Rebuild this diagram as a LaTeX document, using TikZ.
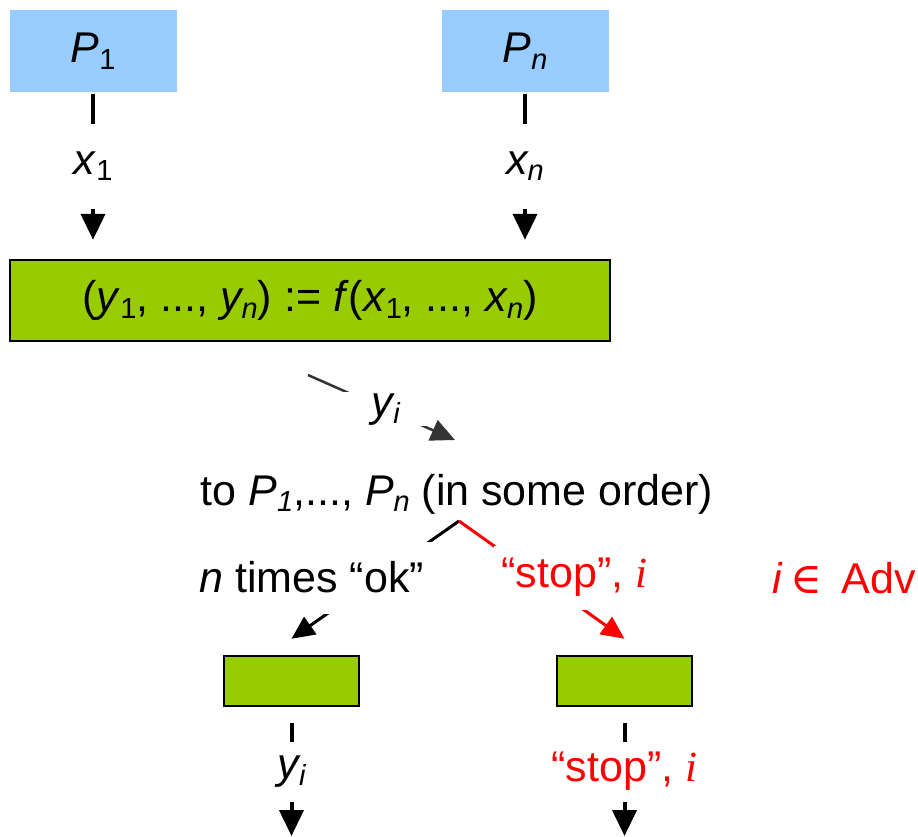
\documentclass[tikz,border=0pt]{standalone}
\usepackage{fontspec}
\setmainfont{Liberation Sans}
\newfontfamily\tserif{Liberation Serif}
\newfontfamily\dserif{DejaVu Serif}
\usetikzlibrary{arrows.meta}
\definecolor{procblue}{HTML}{99CCFF}
\definecolor{funcgreen}{HTML}{99CC00}
\definecolor{msggray}{HTML}{333333}
\newcommand{\ivar}{{\tserif\itshape i}}
\newcommand{\sub}[1]{\raisebox{-.3ex}{\fontsize{29}{30}\selectfont #1}}

\begin{document}
\begin{tikzpicture}[x=1pt,y=-1pt,line width=3pt,
  font=\fontsize{43}{50}\selectfont,
  >={Triangle[width=21pt,length=23pt]},
  party/.style={fill=procblue,minimum width=167pt,minimum height=82pt,inner sep=0pt},
  func/.style={draw,fill=funcgreen,line width=2.5pt,inner sep=0pt},
  gap/.style={fill=white,inner sep=0pt},
  down/.style={->,line width=4pt,>={Triangle[width=24pt,length=26pt]}}]
\useasboundingbox (0,0) rectangle (918,836);

\node[party](p1) at (93,51) {\textit{P}\sub{1}};
\node[party](pn) at (525,51) {\textit{P\sub{n}}};
\node[func,minimum width=600pt,minimum height=81pt](f) at (310,300.5)
  {(\textit{y}\sub{1}, ..., \textit{y\sub{n}}) := \textit{f}(\textit{x}\sub{1}, ..., \textit{x\sub{n}})};
\node(send) at (457,494) {to \textit{P\sub{1}},..., \textit{P\sub{n}} (in some order)};
\node[func,minimum width=135pt,minimum height=50pt](okbox) at (291.5,681) {};
\node[func,minimum width=135pt,minimum height=50pt](stopbox) at (624.5,681) {};
\node[text=red,anchor=east,inner sep=0pt](adv) at (917,578) {\textit{i}\,{\dserif ∈}\, Adv};

\coordinate(yout) at (308,375);
\coordinate(yin) at (455,440);
\coordinate(split) at (459,521);
\coordinate(okend) at (291.5,836);
\coordinate(stopend) at (624.5,836);

% inputs
\draw[down,shorten >=19pt] (p1) -- node[gap,pos=.44,minimum height=85pt]{\textit{x}\sub{1}} (p1 |- f.north);
\draw[down,shorten >=19pt] (pn) -- node[gap,pos=.44,minimum height=85pt]{\textit{x\sub{n}}} (pn |- f.north);

% output to the parties
\draw[->,draw=msggray,line width=2.5pt,>={Triangle[width=22pt,length=24pt]}] (yout) -- node[gap,pos=.53,minimum width=88pt,minimum height=34pt]{\textit{y\sub{i}}} (yin);

% answers
\draw[->] (split) -- node[gap,pos=.48,xshift=-67pt,minimum width=250pt,minimum height=72pt]{\textit{n} times “ok”} ([yshift=16pt]okbox.north);
\draw[->,red] (split) -- node[gap,pos=.48,xshift=36pt,text=red,minimum width=160pt,minimum height=64pt]{“stop”, \ivar} ([yshift=16pt]stopbox.north);

% results
\draw[down,shorten <=16pt] (okbox) -- node[gap,minimum height=60pt]{\textit{y\sub{i}}} (okend);
\draw[down,shorten <=16pt] (stopbox) -- node[gap,text=red,minimum height=60pt]{“stop”, \ivar} (stopend);
\end{tikzpicture}
\end{document}
